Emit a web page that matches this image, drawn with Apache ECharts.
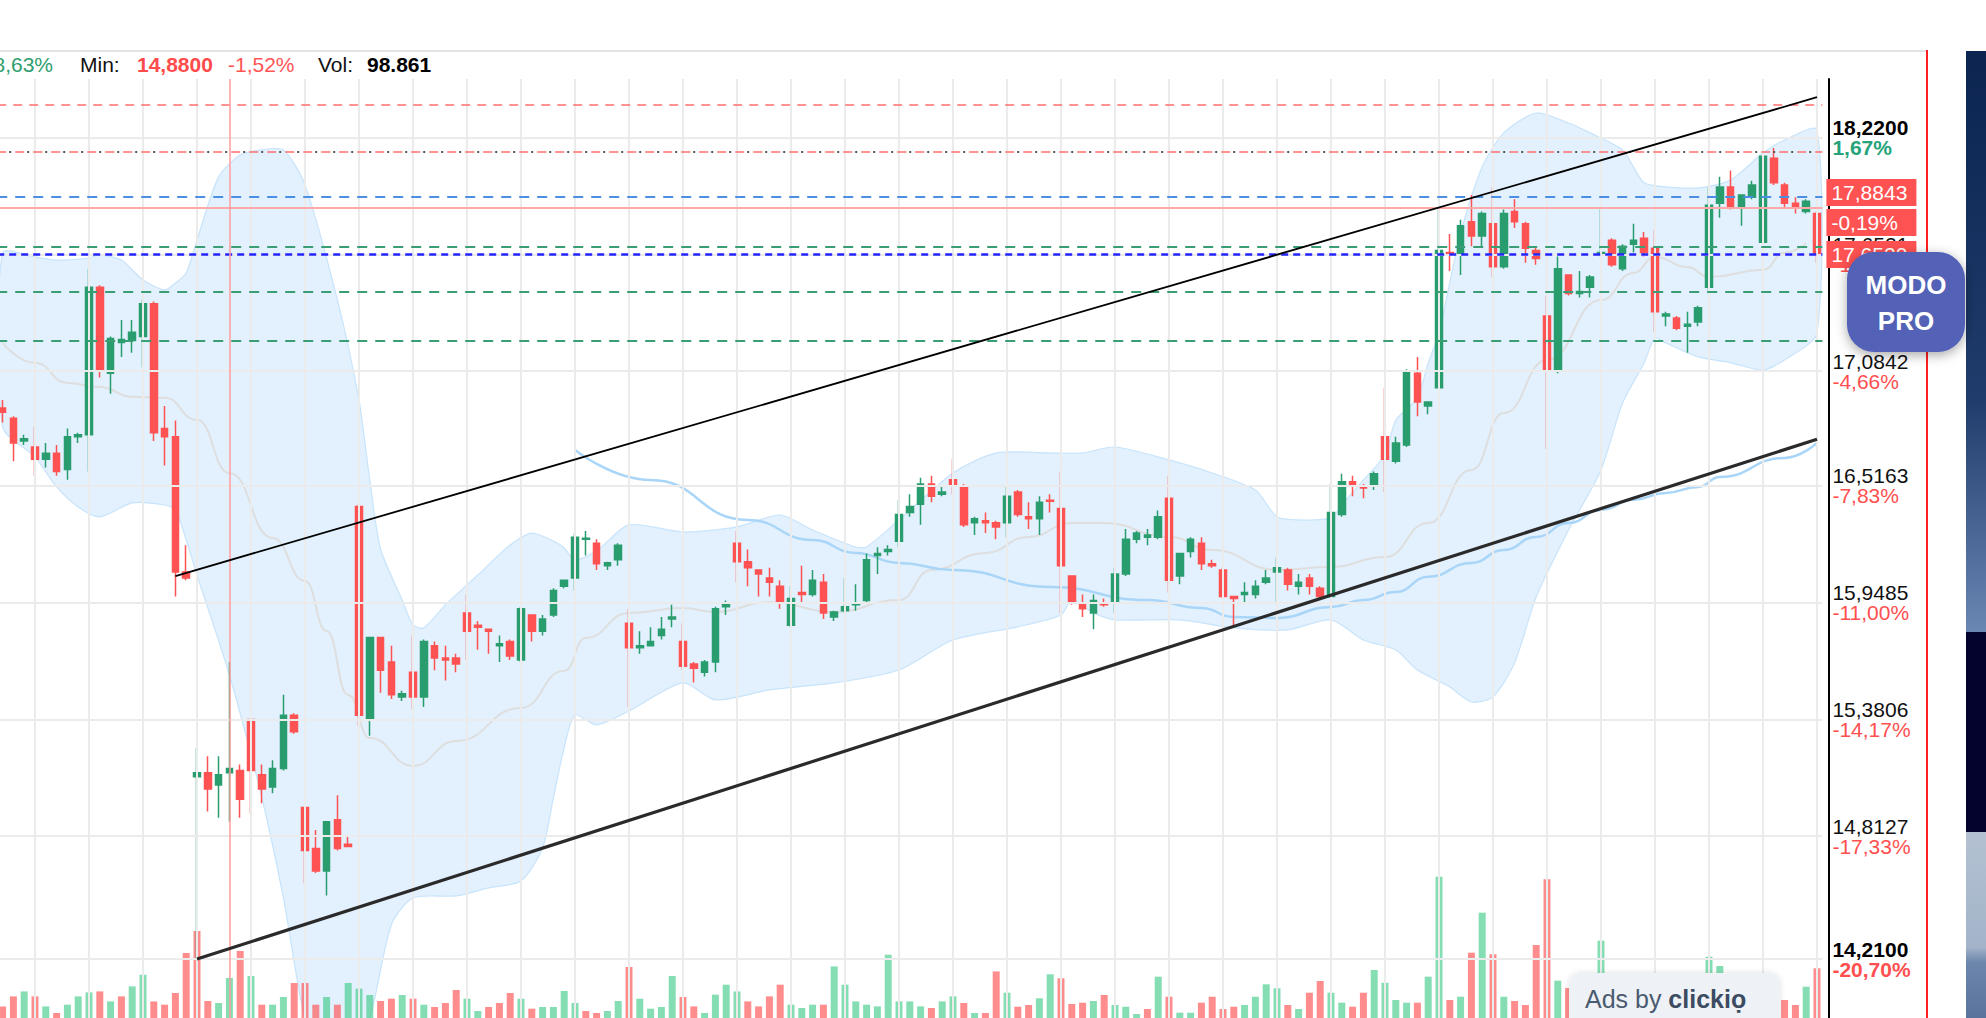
<!DOCTYPE html>
<html><head><meta charset="utf-8">
<script src="https://cdn.jsdelivr.net/npm/echarts@6/dist/echarts.min.js"></script>
<style>html,body{margin:0;padding:0;background:#fff;}#c{width:1986px;height:1018px;}</style>
</head><body><div id="c"></div>
<script>
// ---------------- DATA ----------------
const candles = [
[16.90,16.88,16.83,16.94],[16.85,16.73,16.64,16.86],[16.74,16.75,16.72,16.77],[16.71,16.65,16.57,16.81],[16.65,16.68,16.61,16.73],
[16.68,16.59,16.57,16.72],[16.60,16.76,16.55,16.80],[16.76,16.77,16.73,16.78],[16.77,17.49,16.59,17.58],[17.49,17.09,17.05,17.50],
[17.07,17.24,16.97,17.25],[17.22,17.235,17.15,17.33],[17.23,17.27,17.17,17.33],[17.25,17.41,17.10,17.43],[17.41,16.78,16.74,17.42],
[16.80,16.76,16.62,16.91],[16.76,16.10,15.98,16.84],[16.10,16.07,16.06,16.23],[15.10,15.12,14.21,15.24],[15.12,15.04,14.93,15.20],
[15.06,15.11,14.90,15.20],[15.12,15.14,14.88,15.66],[15.13,14.99,14.90,15.16],[15.38,15.13,14.92,15.38],[15.11,15.04,14.97,15.16],
[15.05,15.14,15.02,15.18],[15.14,15.40,15.13,15.50],[15.40,15.32,15.31,15.41],[14.95,14.74,14.58,14.95],[14.75,14.64,14.63,14.84],
[14.64,14.88,14.52,14.88],[14.89,14.75,14.74,15.01],[14.77,14.76,14.76,14.81],[16.42,15.40,15.35,16.43],[15.38,15.78,15.30,15.78],
[15.78,15.62,15.51,15.78],[15.66,15.50,15.48,15.74],[15.49,15.505,15.47,15.52],[15.61,15.49,15.43,15.79],[15.49,15.76,15.44,15.77],
[15.74,15.68,15.62,15.76],[15.68,15.67,15.57,15.74],[15.68,15.65,15.61,15.70],[15.90,15.81,15.67,15.99],[15.84,15.83,15.72,15.86],
[15.82,15.81,15.70,15.82],[15.74,15.75,15.66,15.79],[15.76,15.69,15.67,15.77],[15.67,15.92,15.66,15.93],[15.89,15.81,15.76,15.89],
[15.81,15.87,15.79,15.89],[15.89,16.01,15.88,16.02],[16.03,16.06,16.02,16.06],[16.07,16.27,16.01,16.29],[16.26,16.265,16.18,16.30],
[16.24,16.14,16.11,16.26],[16.13,16.145,16.11,16.15],[16.16,16.23,16.13,16.24],[15.85,15.73,15.44,15.92],[15.73,15.74,15.70,15.81],
[15.74,15.76,15.74,15.83],[15.79,15.82,15.77,15.88],[15.87,15.88,15.83,15.94],[15.76,15.64,15.62,15.85],[15.65,15.63,15.56,15.66],
[15.61,15.66,15.59,15.67],[15.66,15.92,15.61,15.93],[15.93,15.95,15.89,15.96],[16.24,16.15,16.05,16.30],[16.15,16.12,16.03,16.21],
[16.11,16.09,15.98,16.11],[16.07,16.05,15.98,16.12],[16.03,15.95,15.92,16.06],[15.84,15.97,15.83,16.03],[16.00,15.99,15.95,16.13],
[15.99,16.06,15.98,16.11],[16.05,15.90,15.87,16.09],[15.88,15.905,15.86,15.91],[15.91,15.93,15.90,16.07],[15.94,15.95,15.91,16.04],
[15.96,16.16,15.95,16.19],[16.18,16.19,16.09,16.22],[16.20,16.21,16.18,16.23],[16.25,16.38,16.22,16.45],[16.39,16.42,16.37,16.48],
[16.43,16.53,16.33,16.56],[16.53,16.47,16.44,16.57],[16.48,16.49,16.47,16.52],[16.55,16.52,16.48,16.65],[16.52,16.33,16.32,16.53],
[16.34,16.36,16.28,16.37],[16.35,16.34,16.29,16.39],[16.34,16.32,16.26,16.35],[16.34,16.47,16.27,16.52],[16.49,16.38,16.37,16.50],
[16.37,16.36,16.31,16.44],[16.36,16.44,16.28,16.47],[16.45,16.445,16.39,16.48],[16.41,16.13,15.90,16.59],[16.08,15.95,15.94,16.08],
[15.95,15.92,15.88,15.99],[15.90,15.96,15.82,15.99],[15.95,15.94,15.93,15.97],[15.95,16.09,15.90,16.12],[16.09,16.26,16.08,16.31],
[16.26,16.29,16.24,16.30],[16.27,16.28,16.23,16.31],[16.27,16.37,16.26,16.40],[16.46,16.06,16.00,16.57],[16.08,16.19,16.04,16.19],
[16.20,16.26,16.17,16.27],[16.24,16.14,16.11,16.27],[16.14,16.13,16.12,16.16],[16.11,15.98,15.97,16.12],[15.98,15.97,15.84,15.98],
[15.99,16.00,15.95,16.05],[15.99,16.03,15.97,16.06],[16.05,16.07,16.04,16.11],[16.10,16.12,15.95,16.17],[16.11,16.04,16.01,16.12],
[16.03,16.05,15.99,16.09],[16.07,16.03,15.99,16.09],[16.02,15.98,15.97,16.03],[15.98,16.39,15.97,16.53],[16.38,16.54,16.37,16.58],
[16.54,16.52,16.47,16.57],[16.52,16.51,16.46,16.53],[16.52,16.58,16.50,16.59],[16.76,16.65,16.49,17.00],[16.64,16.73,16.63,16.76],
[16.72,17.08,16.71,17.09],[17.07,16.93,16.86,17.15],[16.91,16.93,16.87,16.93],[17.00,17.67,17.00,17.87],[17.66,17.65,17.57,17.75],
[17.65,17.79,17.55,17.82],[17.81,17.74,17.69,17.94],[17.74,17.85,17.69,17.86],[17.80,17.59,17.54,17.98],[17.59,17.85,17.58,17.87],
[17.86,17.81,17.78,17.92],[17.80,17.68,17.61,17.81],[17.67,17.63,17.60,17.69],[17.35,17.08,16.70,17.45],[17.08,17.58,17.07,17.64],
[17.55,17.46,17.45,17.55],[17.46,17.47,17.44,17.57],[17.49,17.54,17.44,17.55],[17.65,17.66,17.64,17.88],[17.72,17.60,17.59,17.73],
[17.58,17.69,17.57,17.70],[17.70,17.72,17.66,17.80],[17.73,17.66,17.64,17.76],[17.68,17.37,17.27,17.77],[17.35,17.36,17.30,17.37],
[17.34,17.29,17.28,17.35],[17.30,17.31,17.17,17.37],[17.32,17.39,17.30,17.40],[17.49,17.89,17.46,17.98],[17.90,17.98,17.83,18.03],
[17.98,17.88,17.87,18.06],[17.88,17.94,17.79,17.94],[17.93,17.99,17.92,18.01],[17.71,18.13,17.71,18.13],[18.12,18.00,17.99,18.17],
[17.99,17.90,17.88,18.00],[17.90,17.88,17.85,17.93],[17.86,17.91,17.85,17.92],[17.85,17.652,17.61,17.86]
];
// volume, thousands
const volumes = [
28.7,53.4,65.7,53.4,28.7,12.4,32.9,53.4,63.3,65.7,41.0,53.4,78.1,107.0,41.0,32.9,61.8,160.6,215.0,42.0,
37.1,98.861,165.6,103.8,32.9,32.9,51.9,86.5,86.5,32.9,51.9,32.9,86.5,72.4,56.8,42.0,47.7,56.8,47.7,32.9,
27.2,37.1,69.2,47.7,17.3,27.2,37.1,61.8,47.7,23.0,27.2,27.2,66.7,37.1,17.3,12.4,17.3,42.0,126.0,47.7,
23.0,27.2,103.8,51.9,28.7,12.4,57.6,82.3,65.7,41.0,28.7,53.4,82.3,32.9,24.7,32.9,32.9,127.5,82.3,41.0,
32.9,28.7,156.4,41.0,41.0,28.7,24.7,41.0,53.4,37.1,12.4,12.4,115.1,62.5,27.9,32.1,48.7,108.0,98.1,34.6,
37.8,42.0,56.8,32.1,27.9,9.9,22.2,102.1,52.6,13.1,13.1,37.8,52.6,22.2,27.9,32.1,52.6,83.3,73.4,32.1,
22.2,62.5,91.4,62.5,37.8,27.9,62.5,118.6,87.2,44.5,37.8,37.8,102.1,349.2,44.5,52.6,161.4,260.2,157.4,52.6,
42.0,32.1,180.4,342.7,92.2,74.1,49.4,61.8,191.0,69.2,54.4,44.5,49.4,98.8,37.1,49.4,61.8,54.4,151.5,128.5,
74.1,61.8,69.2,98.8,93.9,44.5,32.1,77.3,122.8
];
const categories = candles.map((d, i) => 'G' + (i + 1));

// Bollinger bands [candle index, price]
const bbUpper = [[0,17.658],[3,17.638],[5,17.623],[8,17.633],[9,17.648],[11,17.623],[13,17.526],[15,17.477],[16,17.511],[17,17.560],
[18,17.721],[20,18.029],[22,18.136],[24,18.161],[26,18.161],[28,17.99],[31,17.428],[33,16.940],[34,16.549],[35,16.212],[37,15.963],
[38,15.841],[39,15.827],[41,15.939],[44,16.085],[47,16.232],[49,16.290],[51,16.251],[52,16.217],[53,16.159],[55,16.203],[58,16.330],
[63,16.295],[68,16.320],[72,16.378],[75,16.305],[79,16.222],[80,16.222],[83,16.354],[88,16.583],[92,16.681],[97,16.681],[100,16.681],
[103,16.710],[108,16.647],[112,16.583],[116,16.500],[118,16.369],[120,16.354],[123,16.364],[124,16.427],[126,16.549],[128,16.671],
[129,16.842],[131,16.950],[132,17.121],[133,17.267],[135,17.755],[137,18.078],[139,18.244],[142,18.341],[145,18.292],[147,18.244],
[150,18.161],[151,18.078],[152,18.000],[154,17.980],[157,17.975],[160,18.014],[163,18.146],[165,18.209],[168,18.258]];
const bbLower = [[0,16.808],[3,16.662],[5,16.515],[7,16.417],[9,16.369],[12,16.437],[15,16.427],[16,16.403],[17,16.256],[18,16.085],
[21,15.597],[24,14.997],[26,14.508],[28,13.92],[30,13.717],[32,13.717],[34,13.922],[36,14.377],[38,14.508],[42,14.518],[45,14.557],
[48,14.591],[50,14.752],[51,14.997],[52,15.241],[53,15.402],[55,15.353],[58,15.421],[63,15.558],[66,15.475],[71,15.524],[77,15.558],
[83,15.621],[88,15.768],[94,15.832],[98,15.890],[99,15.963],[101,15.900],[103,15.866],[109,15.866],[114,15.827],[119,15.817],[123,15.866],
[126,15.768],[129,15.719],[131,15.621],[134,15.538],[136,15.465],[138,15.490],[140,15.656],[142,15.978],[145,16.305],[148,16.598],
[150,16.925],[152,17.121],[153,17.243],[154,17.218],[157,17.150],[160,17.121],[163,17.086],[165,17.135],[168,17.267]];
const bbMiddle = [[0,17.218],[3,17.121],[6,17.023],[9,17.003],[12,16.955],[15,16.950],[18,16.842],[21,16.583],[25,16.266],[28,16.056],
[30,15.812],[32,15.499],[34,15.289],[38,15.153],[42,15.275],[48,15.436],[52,15.617],[54,15.778],[58,15.900],[63,15.924],[66,15.905],
[71,15.953],[77,15.905],[83,15.963],[86,16.110],[91,16.193],[95,16.271],[99,16.339],[102,16.339],[108,16.271],[112,16.207],[118,16.110],
[123,16.124],[128,16.173],[132,16.339],[136,16.598],[139,16.876],[143,17.135],[148,17.428],[151,17.560],[153,17.638],[156,17.589],
[158,17.540],[163,17.575],[165,17.658],[167,17.706]];
const maLine = [[53,16.696],[60,16.549],[69,16.354],[75,16.256],[79,16.193],[83,16.144],[88,16.110],[97,16.027],[106,15.963],[111,15.924],
[114,15.880],[118,15.875],[123,15.929],[126,15.963],[129,16.002],[132,16.076],[136,16.144],[139,16.207],[142,16.271],[145,16.339],
[148,16.403],[151,16.452],[154,16.486],[157,16.515],[159,16.564],[165,16.657],[168,16.730]];

const upperTrend = [[16, 16.08], [168, 18.418]];
const lowerTrend = [[18, 14.21], [168, 16.748]];

const gridValues = [18.22, 17.6521, 17.0842, 16.5163, 15.9485, 15.3806, 14.8127, 14.21];
const tickLabels = ['18,2200','17,6521','17,0842','16,5163','15,9485','15,3806','14,8127','14,2100'];
const tickPcts = ['1,67%','-1,50%','-4,66%','-7,83%','-11,00%','-14,17%','-17,33%','-20,70%'];
const tickBold = [true,false,false,false,false,false,false,true];

const refValues = [18.380, 18.147, 18.147, 17.932, 17.8843, 17.688, 17.652, 17.473, 17.229];
const crossIndex = 21;
const header = {pct:'8,63%', minLabel:'Min:', minVal:'14,8800', minPct:'-1,52%', volLabel:'Vol:', volVal:'98.861'};
const lastBoxes = {p1:'17,8843', p1pct:'-0,19%', last:'17,6520'};

// ---------------- STYLE ----------------
const FF = "'Liberation Sans', Arial, Helvetica, sans-serif";
const UP = '#2a9d6f', DOWN = '#ff5252';
const refStyles = [
  {color:'#ff7070', type:[9,7], width:1.5},
  {color:'#ff7070', type:[9,9], width:1.5},
  {color:'#555555', type:[2,16], width:2, dashOffset:-12},
  {color:'#4a8fe3', type:[10,8], width:2},
  {color:'#ffa9a9', type:'solid', width:2},
  {color:'#3a9e74', type:[10,8], width:2},
  {color:'#2424ff', type:[7,5], width:2.5},
  {color:'#3a9e74', type:[10,8], width:2},
  {color:'#3a9e74', type:[10,8], width:2}
];

const vGrid = [];
for (let i = 3; i < candles.length; i += 5) vGrid.push(i);

const gridMarks = gridValues.map((v, k) => ({
  yAxis: v,
  label: {
    show: true, position: 'end', distance: 10,
    formatter: '{' + (tickBold[k] ? 'pb' : 'p') + '|' + tickLabels[k] + '}\n{' +
      (tickPcts[k].charAt(0) === '-' ? (tickBold[k] ? 'nb' : 'n') : 'gb') + '|' + tickPcts[k] + '}',
    rich: {
      p: {fontFamily: FF, fontSize: 21, color: '#111', lineHeight: 20},
      pb: {fontFamily: FF, fontSize: 21, color: '#000', fontWeight: 'bold', lineHeight: 20},
      n: {fontFamily: FF, fontSize: 21, color: '#ff4f4f', lineHeight: 20},
      nb: {fontFamily: FF, fontSize: 21, color: '#ff4f4f', fontWeight: 'bold', lineHeight: 20},
      gb: {fontFamily: FF, fontSize: 21, color: '#26a37a', fontWeight: 'bold', lineHeight: 20}
    }
  }
})).concat(vGrid.map(i => ({xAxis: i})));

const boxRich = {
  a: {fontFamily: FF, fontSize: 21, color: '#fff', backgroundColor: '#ff5252', width: 80, height: 27, lineHeight: 30, padding: [0, 5], align: 'left'}
};
const refMarks = refValues.map((v, k) => {
  const s = refStyles[k];
  const item = {yAxis: v, lineStyle: {color: s.color, type: s.type, width: s.width, dashOffset: s.dashOffset || 0}, label: {show: false}};
  if (k === 4) item.label = {show: true, position: 'end', distance: 4, formatter: '{a|' + lastBoxes.p1 + '}\n{a|' + lastBoxes.p1pct + '}', rich: boxRich};
  if (k === 6) item.label = {show: true, position: 'end', distance: 4, formatter: '{a|' + lastBoxes.last + '}', rich: boxRich};
  return item;
});
refMarks.push({xAxis: crossIndex, lineStyle: {color: '#ff9c9c', width: 1.5, type: 'solid'}, label: {show: false}});

const volData = volumes.map((v, i) => {
  const up = i === 0 ? candles[0][1] >= candles[0][0] : candles[i][1] >= candles[i - 1][1];
  return {value: v, itemStyle: {color: up ? 'rgba(38,196,120,0.56)' : 'rgba(255,82,82,0.66)'}};
});

const chart = echarts.init(document.getElementById('c'), null, {renderer: 'svg'});
const n = candles.length;
chart.setOption({
  animation: false,
  backgroundColor: '#ffffff',
  textStyle: {fontFamily: FF},
  grid: {left: -2.8, width: n * 10.8, top: 79, bottom: 0, containLabel: false, outerBoundsMode: 'none'},
  xAxis: {type: 'category', data: categories, boundaryGap: true, axisLine: {show: false}, axisTick: {show: false}, axisLabel: {show: false}, splitLine: {show: false}},
  yAxis: [
    {type: 'value', min: 13.922, max: 18.507, position: 'right', offset: 6.6, axisLine: {show: true, lineStyle: {color: '#000', width: 2}},
     axisTick: {show: false}, axisLabel: {show: false}, splitLine: {show: false}},
    {type: 'value', min: 0, max: 2320, show: false, splitLine: {show: false}}
  ],
  series: [
    {type: 'line', name: 'grid', data: [], z: 0, silent: true,
     markLine: {silent: true, symbol: ['none', 'none'], animation: false, lineStyle: {color: '#ebebeb', width: 2, type: 'solid'}, label: {show: false}, data: gridMarks}},
    {type: 'custom', name: 'BB', z: 1, silent: true, clip: true, data: [0],
     renderItem: function (params, api) {
       const up = bbUpper.map(p => api.coord(p));
       const lo = bbLower.slice().reverse().map(p => api.coord(p));
       return {type: 'polygon', shape: {points: up.concat(lo), smooth: 0.25},
         style: {fill: 'rgba(200,229,252,0.52)', stroke: 'rgba(190,222,250,0.8)', lineWidth: 1.2}};
     }},
    {type: 'line', name: 'BBmid', data: bbMiddle, z: 2, smooth: true, smoothMonotone: 'x', showSymbol: false, silent: true,
     lineStyle: {color: '#dedede', width: 2}},
    {type: 'line', name: 'MA', data: maLine, z: 2, smooth: true, smoothMonotone: 'x', showSymbol: false, silent: true,
     lineStyle: {color: '#a9d6f8', width: 2.5}},
    {type: 'line', name: 'ref', data: [], z: 3, silent: true,
     markLine: {silent: true, symbol: ['none', 'none'], animation: false, data: refMarks}},
    {type: 'bar', name: 'Vol', yAxisIndex: 1, data: volData, barWidth: 7, z: 3, silent: true},
    {type: 'candlestick', name: 'Prezzo', data: candles, barWidth: 7, z: 4, silent: true,
     itemStyle: {color: UP, color0: DOWN, borderColor: UP, borderColor0: DOWN, borderWidth: 1.5}},
    {type: 'line', name: 'trendUp', data: upperTrend, z: 5, silent: true, symbol: 'circle', symbolSize: 22, showSymbol: true,
     itemStyle: {color: 'rgba(0,0,0,0)', borderColor: '#000', borderWidth: 1.6}, lineStyle: {color: '#000', width: 1.8}},
    {type: 'line', name: 'trendDown', data: lowerTrend, z: 5, silent: true, symbol: 'none', lineStyle: {color: '#2a2a2a', width: 3.2}}
  ],
  graphic: [
    {type: 'line', z: 50, shape: {x1: 0, y1: 51, x2: 1926, y2: 51}, style: {stroke: '#e3e3e3', lineWidth: 2}},
    {type: 'text', z: 50, x: 53, y: 64, style: {text: header.pct, font: '21px ' + FF, fill: '#2e9e6e', textAlign: 'right', textVerticalAlign: 'middle'}},
    {type: 'text', z: 50, x: 80, y: 64, style: {text: header.minLabel, font: '21px ' + FF, fill: '#111', textVerticalAlign: 'middle'}},
    {type: 'text', z: 50, x: 137, y: 64, style: {text: header.minVal, font: 'bold 21px ' + FF, fill: '#ff4b4b', textVerticalAlign: 'middle'}},
    {type: 'text', z: 50, x: 228, y: 64, style: {text: header.minPct, font: '21px ' + FF, fill: '#ff5555', textVerticalAlign: 'middle'}},
    {type: 'text', z: 50, x: 318, y: 64, style: {text: header.volLabel, font: '21px ' + FF, fill: '#111', textVerticalAlign: 'middle'}},
    {type: 'text', z: 50, x: 367, y: 64, style: {text: header.volVal, font: 'bold 21px ' + FF, fill: '#000', textVerticalAlign: 'middle'}},
    {type: 'line', z: 50, shape: {x1: 1927, y1: 50, x2: 1927, y2: 1018}, style: {stroke: '#ff1f1f', lineWidth: 2}},
    {type: 'rect', z: 50, shape: {x: 1966, y: 51, width: 20, height: 581},
     style: {fill: {type: 'linear', x: 0, y: 0, x2: 0, y2: 1, colorStops: [{offset: 0, color: '#0b2450'}, {offset: 0.6, color: '#203c6c'}, {offset: 1, color: '#6a86b3'}]}}},
    {type: 'rect', z: 50, shape: {x: 1966, y: 632, width: 20, height: 200}, style: {fill: '#03032e'}},
    {type: 'rect', z: 50, shape: {x: 1966, y: 832, width: 20, height: 186},
     style: {fill: {type: 'linear', x: 0, y: 0, x2: 0, y2: 1, colorStops: [{offset: 0, color: '#b3c1d2'}, {offset: 0.62, color: '#a3b4c9'}, {offset: 0.7, color: '#6d86ac'}, {offset: 1, color: '#5a739c'}]}}},
    {type: 'rect', z: 60, shape: {x: 1847, y: 252, width: 118, height: 100, r: 27},
     style: {fill: '#5262b6', shadowBlur: 12, shadowColor: 'rgba(0,0,0,0.35)', shadowOffsetY: 3}},
    {type: 'text', z: 61, x: 1906, y: 303, style: {text: 'MODO\nPRO', font: 'bold 26px ' + FF, fill: '#ffffff', textAlign: 'center', textVerticalAlign: 'middle', lineHeight: 36}},
    {type: 'rect', z: 60, shape: {x: 1569, y: 973, width: 211, height: 60, r: 12},
     style: {fill: '#eef2f6', shadowBlur: 6, shadowColor: 'rgba(0,0,0,0.12)'}},
    {type: 'text', z: 61, x: 1585, y: 999, style: {text: 'Ads by {b|clickiọ}', font: '25px ' + FF, fill: '#4b5a70', textVerticalAlign: 'middle',
      rich: {b: {font: 'bold 25px ' + FF, fill: '#3c4b62'}}}}
  ]
});
</script></body></html>
